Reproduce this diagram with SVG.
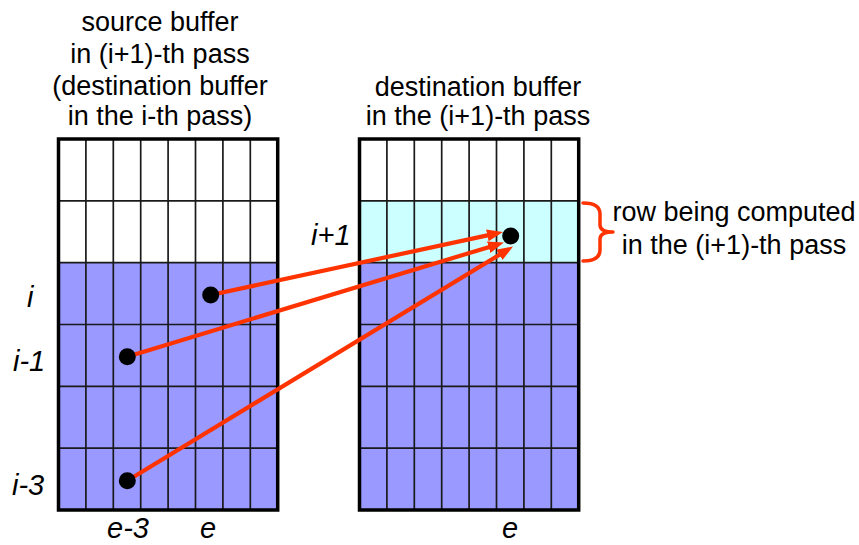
<svg xmlns="http://www.w3.org/2000/svg" width="859" height="545" viewBox="0 0 859 545">
<style>
  .t { font-family: "Liberation Sans", Arial, sans-serif; font-size: 27px; fill: #000; }
  .m { text-anchor: middle; }
  .it { font-family: "Liberation Sans", Arial, sans-serif; font-size: 29px; font-style: italic; fill: #000; }
  .grid { stroke: #1a1a1a; stroke-width: 1.7; fill: none; }
  .frame { stroke: #000; stroke-width: 3.5; fill: none; }
  .white { fill: #ffffff; }
  .blue { fill: #9999ff; }
  .cyan { fill: #ccffff; }
  .dot { fill: #000; }
  .arr { stroke: #ff3300; stroke-width: 4.2; fill: none; marker-end: url(#ah); }
  .brace { stroke: #ff3300; stroke-width: 3.5; fill: none; stroke-linecap: round; stroke-linejoin: round; }
</style>
<defs>
  <marker id="ah" markerUnits="userSpaceOnUse" markerWidth="17" markerHeight="13" refX="6" refY="6" orient="auto">
    <path d="M0,0 L16,6 L0,12 z" fill="#ff3300"/>
  </marker>
  <g id="cols">
    <line x1="27.4" y1="0" x2="27.4" y2="371" class="grid"/>
    <line x1="54.8" y1="0" x2="54.8" y2="371" class="grid"/>
    <line x1="82.2" y1="0" x2="82.2" y2="371" class="grid"/>
    <line x1="109.6" y1="0" x2="109.6" y2="371" class="grid"/>
    <line x1="137" y1="0" x2="137" y2="371" class="grid"/>
    <line x1="164.4" y1="0" x2="164.4" y2="371" class="grid"/>
    <line x1="191.8" y1="0" x2="191.8" y2="371" class="grid"/>
    <line x1="0" y1="61.8" x2="219.2" y2="61.8" class="grid"/>
    <line x1="0" y1="123.7" x2="219.2" y2="123.7" class="grid"/>
    <line x1="0" y1="185.5" x2="219.2" y2="185.5" class="grid"/>
    <line x1="0" y1="247.3" x2="219.2" y2="247.3" class="grid"/>
    <line x1="0" y1="309.2" x2="219.2" y2="309.2" class="grid"/>
  </g>
</defs>

<g id="source-buffer">
  <rect x="58.5" y="139" width="219.2" height="123.7" class="white"/>
  <rect x="58.5" y="262.7" width="219.2" height="247.3" class="blue"/>
  <use href="#cols" x="58.5" y="139"/>
  <rect x="58.5" y="139" width="219.2" height="371" class="frame"/>
  <text class="t m" x="160" y="31">source buffer</text>
  <text class="t m" x="160" y="63">in (i+1)-th pass</text>
  <text class="t m" x="160" y="95">(destination buffer</text>
  <text class="t m" x="160" y="125">in the i-th pass)</text>
</g>

<g id="dest-buffer">
  <rect x="359.5" y="139" width="219.2" height="61.8" class="white"/>
  <rect x="359.5" y="200.8" width="219.2" height="61.9" class="cyan"/>
  <rect x="359.5" y="262.7" width="219.2" height="247.3" class="blue"/>
  <use href="#cols" x="359.5" y="139"/>
  <rect x="359.5" y="139" width="219.2" height="371" class="frame"/>
  <text class="t m" x="478" y="96">destination buffer</text>
  <text class="t m" x="478" y="125">in the (i+1)-th pass</text>
</g>

<g id="row-labels">
  <text class="it" x="27" y="307">i</text>
  <text class="it" x="13" y="371">i-1</text>
  <text class="it" x="12" y="495">i-3</text>
  <text class="it" x="311" y="245">i+1</text>
  <text class="it" x="107" y="538">e-3</text>
  <text class="it" x="200" y="538">e</text>
  <text class="it" x="502" y="538">e</text>
</g>

<g id="computed-row-note">
  <path class="brace" d="M583,203 Q600,203 600,214 L600,225 Q600,232 613,232 Q600,232 600,239 L600,250 Q600,261 583,261"/>
  <text class="t m" x="734" y="221">row being computed</text>
  <text class="t m" x="734" y="254">in the (i+1)-th pass</text>
</g>

<g id="connectors">
  <line class="arr" x1="210.7" y1="295" x2="493.2" y2="234.1"/>
  <line class="arr" x1="127.3" y1="356.7" x2="494.4" y2="245.4"/>
  <line class="arr" x1="127.3" y1="480.7" x2="504.5" y2="251.7"/>
</g>

<g id="dots">
  <circle class="dot" cx="210.7" cy="295" r="8.5"/>
  <circle class="dot" cx="127.3" cy="356.7" r="8.5"/>
  <circle class="dot" cx="127.3" cy="480.7" r="8.5"/>
  <circle class="dot" cx="510.7" cy="236" r="8.5"/>
</g>
</svg>
